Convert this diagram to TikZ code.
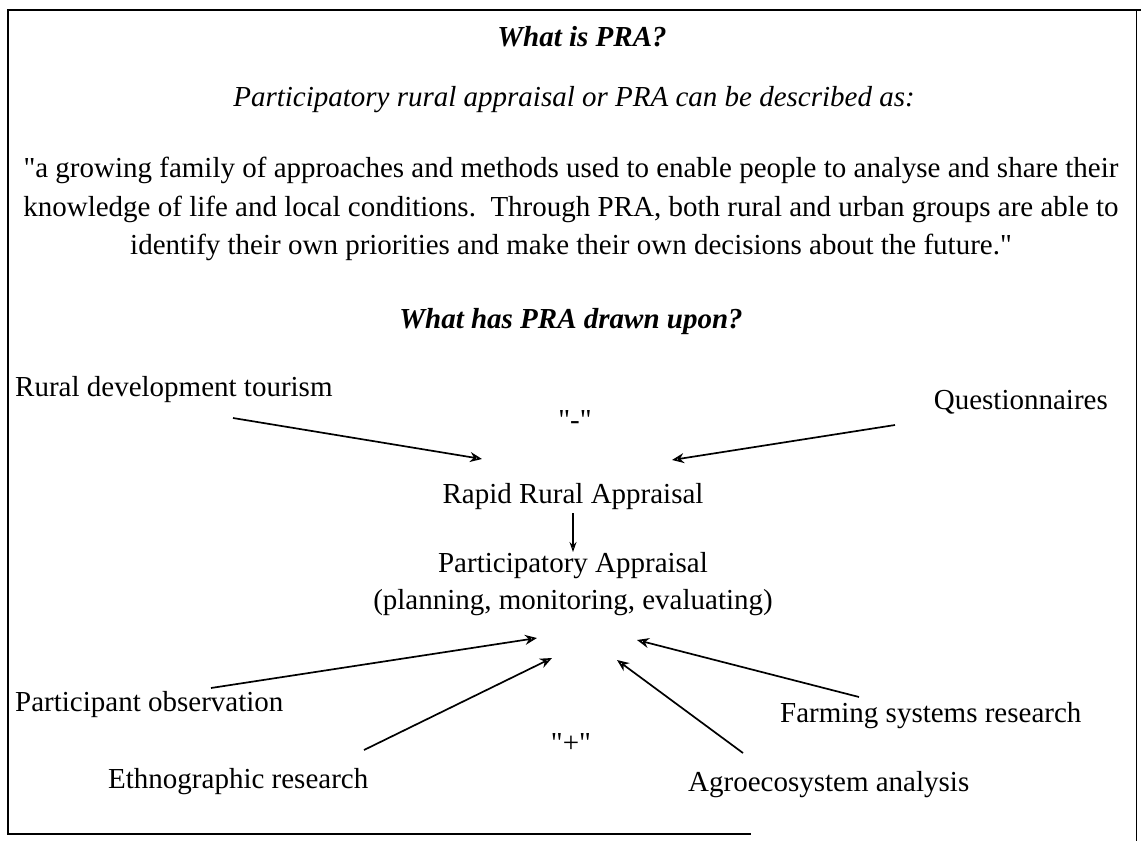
\documentclass[tikz,border=0pt]{standalone}
\usepackage{fontspec}
\setmainfont{Liberation Serif}
\usetikzlibrary{arrows.meta}
\begin{document}
\begin{tikzpicture}[x=1pt,y=-1pt,
  txt/.style={inner sep=0pt, font=\fontsize{29}{36}\selectfont},
  bi/.style={inner sep=0pt, font=\fontsize{29}{36}\selectfont\bfseries\itshape},
  it/.style={inner sep=0pt, font=\fontsize{29}{36}\selectfont\itshape},
  arr/.style={line width=1.7pt, -{Stealth[open,length=12pt,width=10pt]}},
  framel/.style={line width=1.8pt, line cap=rect}]
\useasboundingbox (0,0) rectangle (1141,841);
% frame
\coordinate (f1) at (8,10);
\coordinate (f2) at (1141,10);
\coordinate (f3) at (8,834);
\coordinate (f4) at (750,834);
\coordinate (f5) at (1136,10);
\coordinate (f6) at (1136,841);
\draw[framel] (f2) -- (f1) -- (f3) -- (f4);
\draw[line width=1pt] (f5) -- (f6);
% texts
\node[bi] (title) at (582,37) {What is PRA?};
\node[it] (sub) at (574,100) {Participatory rural appraisal or PRA can be described as:};
\node[txt] (q1) at (571,170) {\textquotedbl a growing family of approaches and methods used to enable people to analyse and share their};
\node[txt] (q2) at (571,209) {knowledge of life and local conditions.\ \ Through PRA, both rural and urban groups are able to};
\node[txt] (q3) at (571,247) {identify their own priorities and make their own decisions about the future.\textquotedbl};
\node[bi] (head) at (571,322) {What has PRA drawn upon?};
\node[txt, anchor=west] (rural) at (15,390) {Rural development tourism};
\node[txt, anchor=east] (quest) at (1108,402) {Questionnaires};
\node[txt] (minus) at (575,420) {\textquotedbl-\textquotedbl};
\node[txt] (rra) at (573,497) {Rapid Rural Appraisal};
\node[txt] (pa) at (573,566) {Participatory Appraisal};
\node[txt] (pme) at (573,603) {(planning, monitoring, evaluating)};
\node[txt, anchor=west] (po) at (15,705) {Participant observation};
\node[txt, anchor=west] (fsr) at (780,716) {Farming systems research};
\node[txt] (plus) at (571,743) {\textquotedbl+\textquotedbl};
\node[txt, anchor=west] (eth) at (108,782) {Ethnographic research};
\node[txt, anchor=west] (agro) at (688,785) {Agroecosystem analysis};
% arrow endpoints
\coordinate (a1s) at (233,418); \coordinate (a1e) at (482,459);
\coordinate (a2s) at (895,425); \coordinate (a2e) at (672,460);
\coordinate (a3s) at (573,513); \coordinate (a3e) at (573,552);
\coordinate (a4s) at (211,688); \coordinate (a4e) at (537,638);
\coordinate (a5s) at (364,750); \coordinate (a5e) at (552,658);
\coordinate (a6s) at (743,753); \coordinate (a6e) at (617,660);
\coordinate (a7s) at (859,697); \coordinate (a7e) at (637,640);
\draw[arr] (a1s) -- (a1e);
\draw[arr] (a2s) -- (a2e);
\draw[line width=1.2pt, -{Stealth[open,length=10pt,width=7pt]}] (a3s) -- (a3e);
\draw[arr] (a4s) -- (a4e);
\draw[arr] (a5s) -- (a5e);
\draw[arr] (a6s) -- (a6e);
\draw[arr] (a7s) -- (a7e);
\end{tikzpicture}
\end{document}
